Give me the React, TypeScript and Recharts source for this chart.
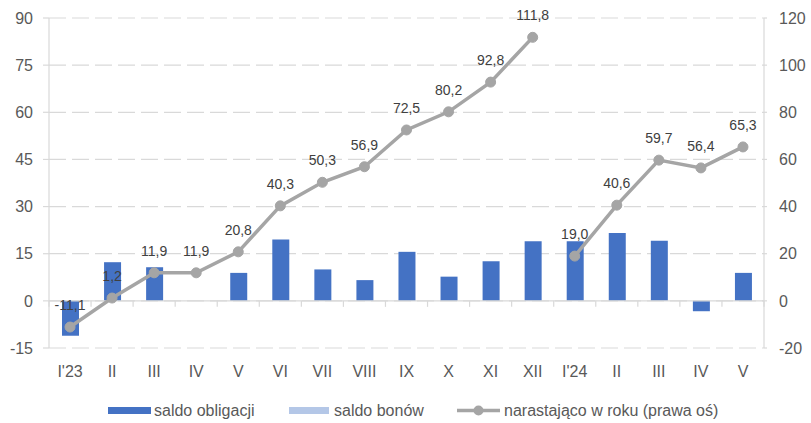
import React from "react";
import {
  Bar,
  CartesianGrid,
  ComposedChart,
  LabelList,
  Legend,
  Line,
  ReferenceLine,
  XAxis,
  YAxis,
} from "recharts";

const months = ["I'23", "II", "III", "IV", "V", "VI", "VII", "VIII", "IX", "X", "XI", "XII", "I'24", "II", "III", "IV", "V"];
// saldo obligacji (lewa oś)
const bonds = [-11.1, 12.3, 10.7, 0, 8.9, 19.5, 10.0, 6.6, 15.6, 7.7, 12.6, 19.0, 19.0, 21.6, 19.1, -3.3, 8.9];
// saldo bonów (lewa oś)
const bills = [0, 0, 0, 0, 0, 0, 0, 0, 0, 0, 0, 0, 0, 0, 0, 0, 0];
// narastająco w roku (prawa oś)
const cum2023 = [-11.1, 1.2, 11.9, 11.9, 20.8, 40.3, 50.3, 56.9, 72.5, 80.2, 92.8, 111.8];
const cum2024 = [19.0, 40.6, 59.7, 56.4, 65.3];

const leftTicks = [-15, 0, 15, 30, 45, 60, 75, 90];
const rightTicks = [-20, 0, 20, 40, 60, 80, 100, 120];

const data = months.map((m, i) => ({
  m,
  bonds: bonds[i],
  bills: bills[i],
  c23: i < cum2023.length ? cum2023[i] : null,
  c24: i >= cum2023.length ? cum2024[i - cum2023.length] : null,
}));

const BLUE = "#4472C4";
const LIGHT = "#B4C7E7";
const GREY = "#A5A5A5";
const AXIS = "#D9D9D9";
const TXT = "#595959";

const fmt = (v: any) => (v == null ? "" : Number(v).toFixed(1).replace(".", ","));

const MonthTick = ({ x, y, payload }: any) => (
  <text x={x} y={y} dy={29} textAnchor="middle" fill={TXT} fontSize={16}>
    {payload.value}
  </text>
);

// x axis drawn at zero, with marks between categories (Excel style)
const ZeroAxis = (p: any) => {
  const step = (p.x2 - p.x1) / months.length;
  return (
    <g>
      <line x1={p.x1} y1={p.y1} x2={p.x2} y2={p.y2} stroke={AXIS} strokeWidth={1.2} />
      {Array.from({ length: months.length + 1 }, (_, i) => (
        <line key={i} x1={p.x1 + i * step} x2={p.x1 + i * step} y1={p.y1} y2={p.y1 + 6} stroke={AXIS} strokeWidth={1.2} />
      ))}
    </g>
  );
};

const LegendBox = () => (
  <svg width={811} height={35} style={{ display: "block" }}>
    <rect x={108} y={19} width={43} height={7} fill={BLUE} />
    <text x={154} y={28} fontSize={16} fill={TXT}>saldo obligacji</text>
    <rect x={289} y={19} width={40} height={7} fill={LIGHT} />
    <text x={334} y={28} fontSize={16} fill={TXT}>saldo bonów</text>
    <line x1={457} x2={500} y1={22.5} y2={22.5} stroke={GREY} strokeWidth={3.5} />
    <circle cx={478.5} cy={22.5} r={5} fill={GREY} />
    <text x={504} y={28} fontSize={16} fill={TXT}>narastająco w roku (prawa oś)</text>
  </svg>
);

export default function App() {
  return (
    <div style={{ position: "absolute", left: 0, top: 0, fontFamily: "'Liberation Sans', Arial, sans-serif" }}>
      <ComposedChart width={811} height={423} data={data} margin={{ top: 18, right: 0, left: 0, bottom: 0 }}>
        <CartesianGrid yAxisId="left" vertical={false} stroke={AXIS} strokeDasharray="17 6" strokeWidth={1.2} />
        <XAxis
          dataKey="m"
          axisLine={false}
          tickLine={false}
          tickSize={0}
          tickMargin={0}
          height={40}
          interval={0}
          tick={<MonthTick />}
        />
        <YAxis
          yAxisId="left"
          width={49}
          domain={[-15, 90]}
          ticks={leftTicks}
          interval={0}
          axisLine={{ stroke: AXIS, strokeWidth: 1.2 }}
          tickLine={{ stroke: AXIS, strokeWidth: 1.2 }}
          tickSize={6}
          tickMargin={10}
          tick={{ fill: TXT, fontSize: 16 }}
        />
        <YAxis
          yAxisId="right"
          orientation="right"
          width={47}
          domain={[-20, 120]}
          ticks={rightTicks}
          interval={0}
          axisLine={{ stroke: AXIS, strokeWidth: 1.2 }}
          tickLine={{ stroke: AXIS, strokeWidth: 1.2 }}
          tickSize={3}
          tickMargin={12}
          tick={{ fill: TXT, fontSize: 16, textAnchor: "start" }}
        />
        <ReferenceLine yAxisId="left" y={0} shape={ZeroAxis} />
        <Bar yAxisId="left" dataKey="bonds" name="saldo obligacji" stackId="s" fill={BLUE} barSize={17} isAnimationActive={false} />
        <Bar yAxisId="left" dataKey="bills" name="saldo bonów" stackId="s" fill={LIGHT} barSize={17} isAnimationActive={false} />
        <Line
          yAxisId="right"
          dataKey="c23"
          name="narastająco w roku (prawa oś)"
          stroke={GREY}
          strokeWidth={3.5}
          dot={{ r: 5, fill: GREY, stroke: GREY, strokeWidth: 1 }}
          activeDot={false}
          isAnimationActive={false}
        >
          <LabelList dataKey="c23" position="top" offset={17} formatter={fmt} fill="#404040" fontSize={14} />
        </Line>
        <Line
          yAxisId="right"
          dataKey="c24"
          name="narastająco w roku (prawa oś) 2024"
          stroke={GREY}
          strokeWidth={3.5}
          dot={{ r: 5, fill: GREY, stroke: GREY, strokeWidth: 1 }}
          activeDot={false}
          isAnimationActive={false}
        >
          <LabelList dataKey="c24" position="top" offset={17} formatter={fmt} fill="#404040" fontSize={14} />
        </Line>
        <Legend verticalAlign="bottom" height={35} content={<LegendBox />} />
      </ComposedChart>
    </div>
  );
}
